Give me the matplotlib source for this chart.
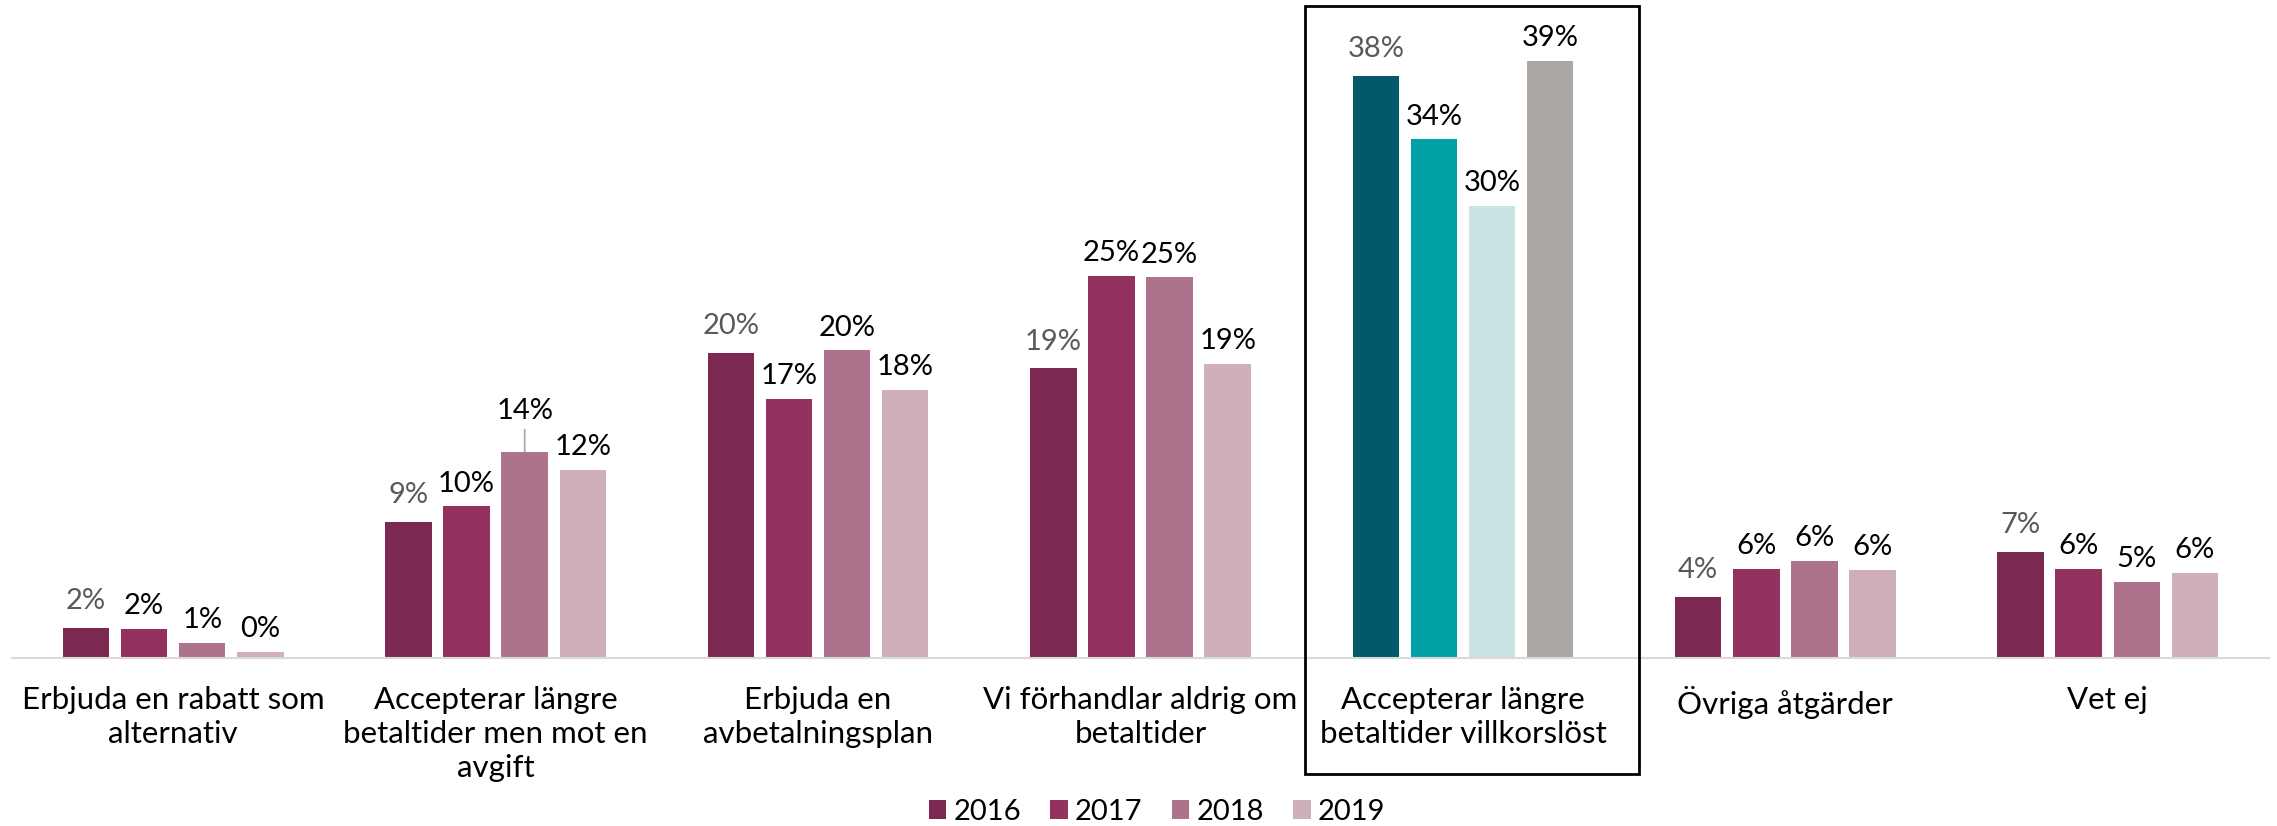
import matplotlib
matplotlib.use("Agg")
import matplotlib.pyplot as plt
from matplotlib.patches import Rectangle, Patch
import numpy as np

plt.rcParams['font.family'] = ['Lato', 'DejaVu Sans']

categories = [
    "Erbjuda en rabatt som\nalternativ",
    "Accepterar längre\nbetaltider men mot en\navgift",
    "Erbjuda en\navbetalningsplan",
    "Vi förhandlar aldrig om\nbetaltider",
    "Accepterar längre\nbetaltider villkorslöst",
    "Övriga åtgärder",
    "Vet ej",
]
years = ["2016", "2017", "2018", "2019"]
v2016 = [2.0, 9.0, 20.1, 19.1, 38.4, 4.0, 7.0]
v2017 = [1.9, 10.0, 17.1, 25.2, 34.2, 5.9, 5.9]
v2018 = [1.0, 13.6, 20.3, 25.1, 29.8, 6.4, 5.0]
v2019 = [0.4, 12.4, 17.7, 19.4, 39.4, 5.8, 5.6]
series = [v2016, v2017, v2018, v2019]

colors = ["#7B2950", "#93325F", "#AE738C", "#D0AFBC"]
hl_colors = ["#005A6A", "#00A2A6", "#C8E4E3", "#ABA7A5"]
highlight = 4

W, H = 2277, 826
fig = plt.figure(figsize=(W / 100, H / 100), dpi=100)
ax = fig.add_axes([12 / W, (H - 658) / H, 2257 / W, 658 / H])
ax.set_xlim(-0.5, 6.5)
ax.set_ylim(0, 43.4)

x = np.arange(len(categories))
bw = 32 / 222
step = 40 / 222
for i, vals in enumerate(series):
    off = (i - 1.5) * step
    cols = [hl_colors[i] if j == highlight else colors[i] for j in range(len(vals))]
    bars = ax.bar(x + off, vals, width=bw, color=cols, zorder=2)
    for j, (b, v) in enumerate(zip(bars, vals)):
        txt = f"{v:.0f}%"
        lc = "#595959" if i == 0 else "black"
        cx = b.get_x() + b.get_width() / 2
        if j == 1 and i == 2:
            ax.annotate(txt, (cx, v), xytext=(0, 20), textcoords="offset points",
                        ha="center", va="bottom", fontsize=21, color=lc,
                        arrowprops=dict(arrowstyle="-", color="#A6A6A6", lw=1.2,
                                        shrinkA=2, shrinkB=0))
        else:
            dy = 10 if i == 0 else 7
            ax.annotate(txt, (cx, v), xytext=(0, dy), textcoords="offset points",
                        ha="center", va="bottom", fontsize=21, color=lc)

for s in ["top", "right", "left"]:
    ax.spines[s].set_visible(False)
ax.spines["bottom"].set_color("#D9D9D9")
ax.spines["bottom"].set_linewidth(1.5)
ax.set_yticks([])
ax.set_xticks(x)
ax.set_xticklabels(categories, fontsize=22.5, linespacing=1.26)
ax.tick_params(axis="x", length=0, pad=20)

# highlight box
fig.patches.append(Rectangle((1305 / W, 52 / H), 334 / W, 768 / H, fill=False,
                             edgecolor="black", linewidth=2, transform=fig.transFigure))

handles = [Patch(facecolor=c, edgecolor="none") for c in colors]
fig.legend(handles, years, loc="center", bbox_to_anchor=(1157 / W, 14 / H),
           ncol=4, frameon=False, fontsize=21, handlelength=0.6, handleheight=0.6,
           handletextpad=0.25, columnspacing=1.0, borderpad=0)

fig.savefig("out.png", dpi=100, facecolor="white")
